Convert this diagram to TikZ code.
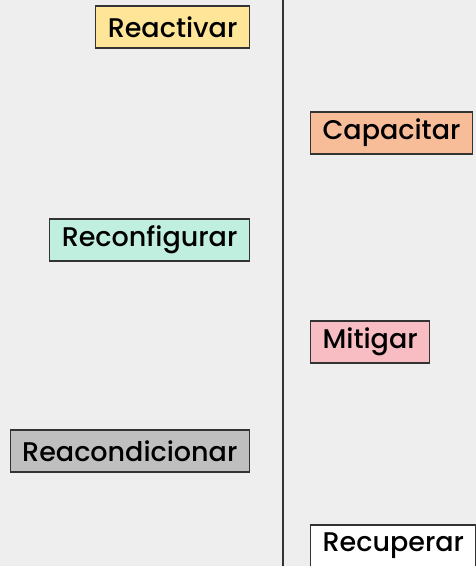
\documentclass[tikz,border=0pt]{standalone}
\usepackage{fontspec}
\setmainfont{Poppins}[UprightFont={* Medium}]
\usetikzlibrary{positioning}

\definecolor{bggray}{HTML}{EEEEEE}
\definecolor{linegray}{HTML}{333333}
\definecolor{reactivarfill}{HTML}{FFE598}
\definecolor{capacitarfill}{HTML}{F7BC98}
\definecolor{reconfigfill}{HTML}{C0EFDF}
\definecolor{mitigarfill}{HTML}{F7BDC3}
\definecolor{reacondfill}{HTML}{BFBFBF}

\begin{document}
\begin{tikzpicture}[
    x=1pt, y=-1pt,
    stage/.style={rectangle, draw=linegray, line width=1.2pt, minimum height=42pt, inner xsep=12pt, font=\fontsize{27}{31}\selectfont},
    leftstage/.style={stage, anchor=east},
    rightstage/.style={stage, anchor=west},
    axis/.style={draw=linegray, line width=1.4pt}
]

    % Background and frame
    \fill[bggray] (0,0) rectangle (476,566);
    \useasboundingbox (0,0) rectangle (476,566);
    \clip (0,0) rectangle (476,566);

    % Timeline
    \coordinate (top) at (283,0);
    \coordinate (bottom) at (283,566);
    \draw[axis] (top) -- (bottom);

    % Left stages
    \node[leftstage, fill=reactivarfill] (reactivar) at (250,27) {Reactivar};
    \node[leftstage, fill=reconfigfill] (reconfigurar) at (250,240) {Reconfigurar};
    \node[leftstage, fill=reacondfill] (reacondicionar) at (250,451) {Reacondicionar};

    % Right stages
    \node[rightstage, fill=capacitarfill] (capacitar) at (310,133) {Capacitar};
    \node[rightstage, fill=mitigarfill] (mitigar) at (310,342) {Mitigar};
    \node[rightstage, fill=white] (recuperar) at (310,546) {Recuperar};

\end{tikzpicture}
\end{document}
